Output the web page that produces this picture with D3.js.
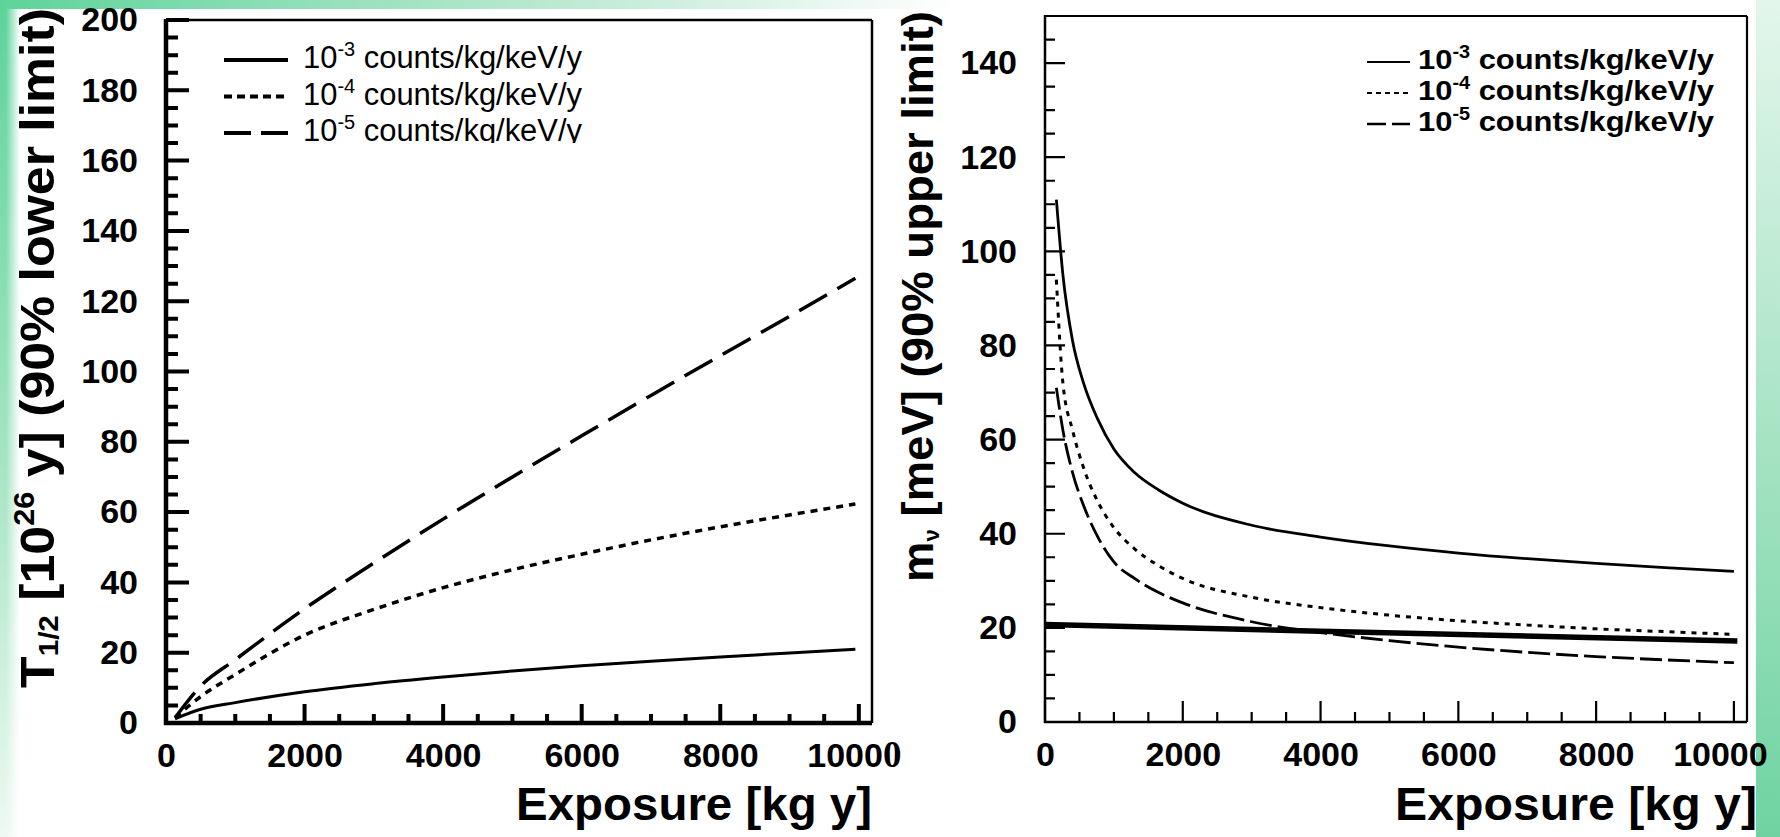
<!doctype html>
<html lang="en">
<head>
<meta charset="utf-8">
<title>Sensitivity vs exposure</title>
<style>
  body { margin: 0; background: #fff; }
  svg { display: block; }
  text { font-family: "Liberation Sans", Arial, Helvetica, sans-serif; fill: #000; }
</style>
</head>
<body>
<svg id="chart"></svg>
<script src="https://d3js.org/d3.v7.min.js"></script>
<script>
// ---- data ----
// left panel: half-life lower limit [1e26 y] vs exposure [kg y]
var leftExposure = [130, 500, 1000, 2000, 3000, 4000, 5000, 6000, 7000, 8000, 9000, 9950];
var leftB3 = [1.2, 3.9, 5.8, 8.9, 11.2, 13.1, 14.8, 16.3, 17.6, 18.8, 19.9, 21.0];
var leftB4 = [1.5, 7.5, 13.8, 25.0, 32.3, 38.5, 43.6, 48.0, 52.1, 55.8, 59.2, 62.3];
var leftB5 = [1.5, 10.5, 18.0, 32.5, 45.5, 58.0, 70.0, 81.7, 93.2, 104.5, 115.7, 126.5];

// right panel: effective mass upper limit [meV] vs exposure [kg y]
var rightExposure = [165, 260, 400, 560, 760, 1000, 1300, 1650, 2000, 3000, 4000, 5000, 6000, 7000, 8000, 9000, 10000];
var rightB3 = [111, 95, 81, 72, 64.5, 58, 53, 49.3, 46.5, 41.8, 39.3, 37.4, 35.9, 34.7, 33.7, 32.8, 32];
var rightB4 = [94, 72, 62, 54, 47, 41.3, 36.8, 33.2, 30.5, 26.5, 24.3, 22.7, 21.5, 20.6, 19.8, 19.2, 18.6];
var rightB5 = [71, 62, 53, 46, 39.5, 34, 30.5, 27.5, 25.3, 21.3, 19.0, 17.3, 15.9, 14.8, 13.9, 13.2, 12.6];
var refLineExposure = [0, 4000, 10050];
var refLineMass = [20.7, 19.3, 17.2];

var legendPowers = ["-3", "-4", "-5"];
var legendUnit = " counts/kg/keV/y";
var leftYTicks = d3.range(0, 201, 20);
var rightYTicks = d3.range(0, 141, 20);
var xTicks = d3.range(0, 10001, 2000);

var W = 1780, H = 837;
var svg = d3.select("#chart").attr("width", W).attr("height", H);

// ---- slide background ----
var defs = svg.append("defs");
function grad(id, x2, y2, stops) {
    var g = defs.append("linearGradient").attr("id", id)
        .attr("x1", 0).attr("y1", 0).attr("x2", x2).attr("y2", y2);
    stops.forEach(function (s) {
        g.append("stop").attr("offset", s[0]).attr("stop-color", s[1]).attr("stop-opacity", s[2] == null ? 1 : s[2]);
    });
}
grad("leftStrip", 0, 1, [[0, "#5dd39a"], [0.55, "#a5e4c3"], [1, "#eef9f3"]]);
grad("leftFade", 1, 0, [[0, "#ffffff", 0], [1, "#ffffff", 1]]);
grad("topStrip", 1, 0, [[0, "#5dd39a"], [0.6, "#bfead3"], [1, "#ffffff"]]);
grad("rightStrip", 0, 1, [[0, "#e3f6ec"], [0.5, "#a9e4c5"], [1, "#6fd3a1"]]);

svg.append("rect").attr("width", W).attr("height", H).attr("fill", "#fff");
svg.append("rect").attr("x", 0).attr("y", 0).attr("width", 20).attr("height", H).attr("fill", "url(#leftStrip)");
svg.append("rect").attr("x", 6).attr("y", 0).attr("width", 14).attr("height", H).attr("fill", "url(#leftFade)");
svg.append("rect").attr("x", 0).attr("y", 0).attr("width", 960).attr("height", 9).attr("fill", "url(#topStrip)");
svg.append("rect").attr("x", 1756).attr("y", 0).attr("width", 24).attr("height", H).attr("fill", "url(#rightStrip)");

// ---- scales ----
var xL = d3.scaleLinear().domain([0, 10190]).range([166, 872]);
var yL = d3.scaleLinear().domain([0, 200]).range([723, 20]);
var xR = d3.scaleLinear().domain([0, 10190]).range([1045, 1747]);
var yR = d3.scaleLinear().domain([0, 150]).range([722, 16]);

function minorValues(max, step, majorStep) {
    var out = [];
    for (var v = step; v <= max + 0.001; v += step) {
        if (Math.round(v) % majorStep !== 0) out.push(v);
    }
    return out;
}

// labels outside the frame, through d3 axes
function drawLabels(g, x, y, yTicks) {
    var ax = g.append("g").attr("transform", "translate(0," + y.range()[0] + ")")
        .call(d3.axisBottom(x).tickValues(xTicks).tickSize(0).tickPadding(20).tickFormat(d3.format("d")));
    g.append("g").attr("transform", "translate(" + x.range()[0] + ",0)")
        .call(d3.axisLeft(y).tickValues(yTicks).tickSize(0).tickPadding(28).tickFormat(d3.format("d")));
    g.selectAll(".domain").remove();
    g.selectAll(".tick line").remove();
    g.selectAll(".tick text").attr("fill", "#000").style("font-size", "34px").style("font-weight", "bold");
    return ax;
}

// ---- left panel ----
var gL = svg.append("g");
var axL = drawLabels(gL, xL, yL, leftYTicks);
// the last label of the left x axis has its final zero in a serif face
axL.selectAll(".tick text").filter(function (d) { return d === 10000; })
    .text(null)
    .attr("dx", -5)
    .call(function (t) {
        t.append("tspan").text("1000");
        t.append("tspan").text("0").style("font-family", "'Liberation Serif', 'Times New Roman', serif").style("font-size", "37px");
    });

var lineL = function (vals) {
    return d3.line().curve(d3.curveMonotoneX)
        .x(function (d, i) { return xL(leftExposure[i]); })
        .y(function (d) { return yL(d); })(vals);
};
gL.append("path").attr("d", lineL(leftB3)).attr("fill", "none").attr("stroke", "#000").attr("stroke-width", 3);
gL.append("path").attr("d", lineL(leftB4)).attr("fill", "none").attr("stroke", "#000").attr("stroke-width", 3.5)
    .attr("stroke-dasharray", "7,6");
gL.append("path").attr("d", lineL(leftB5)).attr("fill", "none").attr("stroke", "#000").attr("stroke-width", 3.5)
    .attr("stroke-dasharray", "32,12");

// left legend (bottom row is clipped in the original)
defs.append("clipPath").attr("id", "legClip").append("rect")
    .attr("x", 200).attr("y", 25).attr("width", 500).attr("height", 118);
var legL = gL.append("g").attr("clip-path", "url(#legClip)");
var legLStyles = [["", 4], ["8,5", 4], ["27,10", 4]];
legendPowers.forEach(function (p, i) {
    var yy = 60 + i * 36.5;
    legL.append("line").attr("x1", 224).attr("x2", 288).attr("y1", yy).attr("y2", yy)
        .attr("stroke", "#000").attr("stroke-width", legLStyles[i][1])
        .attr("stroke-dasharray", legLStyles[i][0] || null);
    var t = legL.append("text").attr("x", 303).attr("y", yy + 8).style("font-size", "31px")
        .attr("textLength", 279).attr("lengthAdjust", "spacingAndGlyphs");
    t.append("tspan").text("10");
    t.append("tspan").text(p).attr("dy", -12).style("font-size", "20px");
    t.append("tspan").text(legendUnit).attr("dy", 12);
});

// left titles
var tyL = gL.append("text").attr("transform", "translate(54,8) rotate(-90)")
    .attr("text-anchor", "end").style("font-size", "49px").style("font-weight", "bold")
    .attr("textLength", 680).attr("lengthAdjust", "spacingAndGlyphs");
tyL.append("tspan").text("T");
tyL.append("tspan").text("1/2").attr("dy", 4).style("font-size", "28px");
tyL.append("tspan").text(" [10").attr("dy", -4);
tyL.append("tspan").text("26").attr("dy", -20).style("font-size", "29px");
tyL.append("tspan").text(" y] (90% lower limit)").attr("dy", 20);

gL.append("text").attr("x", 872).attr("y", 820).attr("text-anchor", "end")
    .style("font-size", "46px").style("font-weight", "bold")
    .attr("textLength", 356).attr("lengthAdjust", "spacingAndGlyphs")
    .text("Exposure [kg y]");

// ---- right panel ----
var gR = svg.append("g");
var axR = drawLabels(gR, xR, yR, rightYTicks);
axR.selectAll(".tick text").filter(function (d) { return d === 10000; }).attr("dx", -14);

var lineR = function (vals, xs) {
    return d3.line().curve(d3.curveMonotoneX)
        .x(function (d, i) { return xR(xs[i]); })
        .y(function (d) { return yR(d); })(vals);
};
gR.append("path").attr("d", lineR(refLineMass, refLineExposure)).attr("fill", "none").attr("stroke", "#000").attr("stroke-width", 5.5);
gR.append("path").attr("d", lineR(rightB3, rightExposure)).attr("fill", "none").attr("stroke", "#000").attr("stroke-width", 2.8);
gR.append("path").attr("d", lineR(rightB4, rightExposure)).attr("fill", "none").attr("stroke", "#000").attr("stroke-width", 3)
    .attr("stroke-dasharray", "5,6");
gR.append("path").attr("d", lineR(rightB5, rightExposure)).attr("fill", "none").attr("stroke", "#000").attr("stroke-width", 2.8)
    .attr("stroke-dasharray", "22,6");

// right legend
var legRStyles = [["", 2.2], ["5,4", 2.2], ["19,6", 2.5]];
legendPowers.forEach(function (p, i) {
    var yy = 62 + i * 31;
    gR.append("line").attr("x1", 1367).attr("x2", 1410).attr("y1", yy).attr("y2", yy)
        .attr("stroke", "#000").attr("stroke-width", legRStyles[i][1])
        .attr("stroke-dasharray", legRStyles[i][0] || null);
    var t = gR.append("text").attr("x", 1418).attr("y", yy + 7).style("font-size", "28px").style("font-weight", "bold")
        .attr("textLength", 296).attr("lengthAdjust", "spacingAndGlyphs");
    t.append("tspan").text("10");
    t.append("tspan").text(p).attr("dy", -11).style("font-size", "18px");
    t.append("tspan").text(legendUnit).attr("dy", 11);
});

// right titles
var tyR = gR.append("text").attr("transform", "translate(933,11) rotate(-90)")
    .attr("text-anchor", "end").style("font-size", "45px").style("font-weight", "bold")
    .attr("textLength", 571).attr("lengthAdjust", "spacingAndGlyphs");
tyR.append("tspan").text("m");
tyR.append("tspan").text("\u03bd").attr("dy", 6).style("font-size", "22px");
tyR.append("tspan").text(" [meV] (90% upper limit)").attr("dy", -6);

gR.append("text").attr("x", 1757).attr("y", 820).attr("text-anchor", "end")
    .style("font-size", "46px").style("font-weight", "bold")
    .attr("textLength", 362).attr("lengthAdjust", "spacingAndGlyphs")
    .text("Exposure [kg y]");

// ---- ticks (pointing inside) and frames, drawn last ----
// left panel
var fL = svg.append("g");
var pL = d3.path();
xTicks.forEach(function (v) { pL.moveTo(xL(v), 723); pL.lineTo(xL(v), 723 - 19); });
minorValues(10000, 500, 2000).forEach(function (v) { pL.moveTo(xL(v), 723); pL.lineTo(xL(v), 723 - 9); });
leftYTicks.forEach(function (v) { pL.moveTo(166, yL(v)); pL.lineTo(166 + 23, yL(v)); });
minorValues(195, 5, 20).forEach(function (v) { pL.moveTo(166, yL(v)); pL.lineTo(166 + 12, yL(v)); });
fL.append("path").attr("d", pL.toString()).attr("fill", "none").attr("stroke", "#000").attr("stroke-width", 4);
fL.append("line").attr("x1", 166).attr("x2", 872).attr("y1", 20).attr("y2", 20).attr("stroke", "#000").attr("stroke-width", 2.5);
fL.append("line").attr("x1", 872).attr("x2", 872).attr("y1", 20).attr("y2", 723).attr("stroke", "#000").attr("stroke-width", 2.5);
fL.append("line").attr("x1", 166).attr("x2", 166).attr("y1", 19).attr("y2", 725).attr("stroke", "#000").attr("stroke-width", 4.5);
fL.append("line").attr("x1", 164).attr("x2", 872).attr("y1", 723).attr("y2", 723).attr("stroke", "#000").attr("stroke-width", 4.5);

// right panel
var fR = svg.append("g");
var pR = d3.path();
xTicks.forEach(function (v) { pR.moveTo(xR(v), 722); pR.lineTo(xR(v), 722 - 21); });
minorValues(10000, 500, 2000).forEach(function (v) { pR.moveTo(xR(v), 722); pR.lineTo(xR(v), 722 - 10); });
rightYTicks.forEach(function (v) { pR.moveTo(1045, yR(v)); pR.lineTo(1045 + 20, yR(v)); });
minorValues(145, 5, 20).forEach(function (v) { pR.moveTo(1045, yR(v)); pR.lineTo(1045 + 10, yR(v)); });
fR.append("path").attr("d", pR.toString()).attr("fill", "none").attr("stroke", "#000").attr("stroke-width", 2.2);
fR.append("line").attr("x1", 1045).attr("x2", 1747).attr("y1", 16).attr("y2", 16).attr("stroke", "#000").attr("stroke-width", 2.2);
fR.append("line").attr("x1", 1747).attr("x2", 1747).attr("y1", 16).attr("y2", 722).attr("stroke", "#000").attr("stroke-width", 2.2);
fR.append("line").attr("x1", 1045).attr("x2", 1045).attr("y1", 15).attr("y2", 723).attr("stroke", "#000").attr("stroke-width", 2.5);
fR.append("line").attr("x1", 1044).attr("x2", 1747).attr("y1", 722).attr("y2", 722).attr("stroke", "#000").attr("stroke-width", 2.5);
</script>
</body>
</html>
